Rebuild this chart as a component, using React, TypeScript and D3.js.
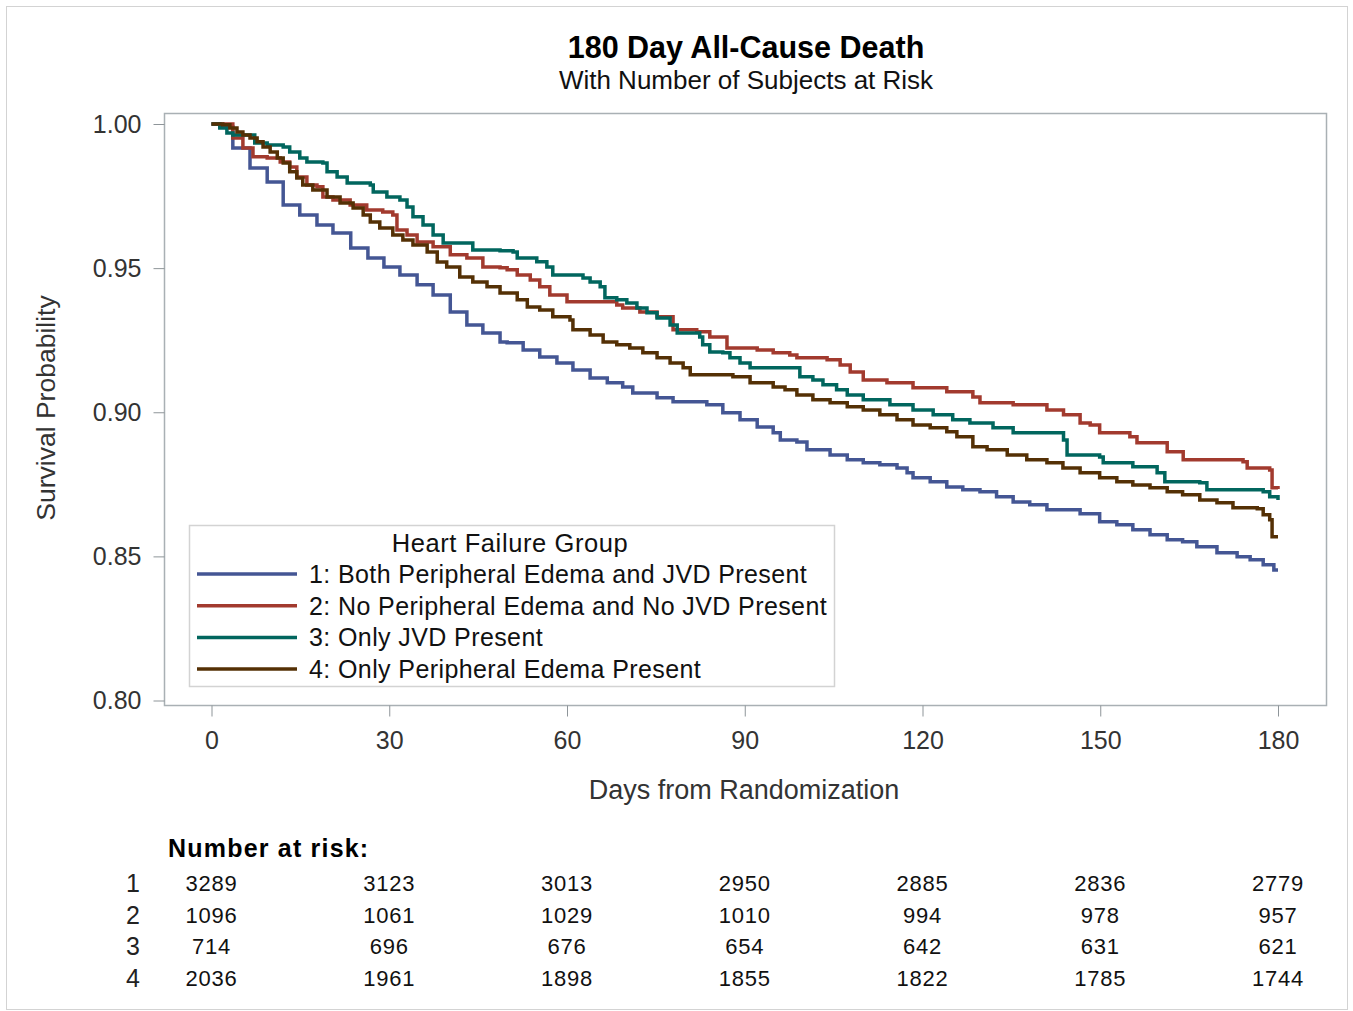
import React, { useEffect, useRef } from "react";
import * as d3 from "d3";

// survival curves, [day, probability]
const group1: [number, number][] = [
  [0, 1.0], [1.4, 0.999], [3.6, 0.9917], [6.5, 0.9847], [9.4, 0.9799], [12.1, 0.9719],
  [14.9, 0.9684], [17.8, 0.965], [20.5, 0.9622], [23.5, 0.957], [26.4, 0.9535], [29.1, 0.9504],
  [31.8, 0.9476], [34.7, 0.9442], [37.4, 0.9407], [40.3, 0.9348], [43.1, 0.9303], [45.8, 0.9275],
  [48.7, 0.9244], [49.9, 0.9241], [52.6, 0.9216], [55.4, 0.9192], [58.3, 0.9171], [61.0, 0.9147],
  [63.9, 0.9119], [66.8, 0.9102], [69.4, 0.9088], [71.1, 0.9067], [75.2, 0.905], [77.9, 0.9036],
  [83.6, 0.9026], [86.3, 0.8998], [89.2, 0.8974], [92.1, 0.8949], [94.8, 0.8929], [96.0, 0.8904],
  [98.8, 0.8897], [100.5, 0.887], [104.4, 0.8852], [107.3, 0.8835], [110.0, 0.8825], [112.8, 0.8818],
  [115.7, 0.8807], [117.4, 0.879], [118.4, 0.8773], [121.3, 0.8759], [124.1, 0.8741], [126.8, 0.8731],
  [129.7, 0.8724], [132.5, 0.8707], [135.3, 0.8689], [138.1, 0.8679], [141.0, 0.8662], [146.6, 0.8648],
  [149.9, 0.862], [152.8, 0.861], [155.5, 0.8592], [158.4, 0.8575], [161.3, 0.8558], [163.9, 0.8551],
  [166.3, 0.8533], [169.7, 0.8513], [173.1, 0.8499], [175.3, 0.8488], [177.5, 0.8471], [179.3, 0.8453],
  [180, 0.8453],
];

const group2: [number, number][] = [
  [0, 1.0], [3.6, 0.9951], [5.3, 0.9917], [7.0, 0.9886], [9.4, 0.9882], [11.6, 0.9868],
  [13.2, 0.9851], [14.4, 0.9816], [16.1, 0.9788], [17.8, 0.9782], [18.8, 0.9747], [20.5, 0.9736],
  [23.4, 0.9719], [26.2, 0.9702], [28.9, 0.9695], [30.6, 0.9684], [31.3, 0.9632], [33.0, 0.9615],
  [34.7, 0.9591], [37.4, 0.9574], [40.3, 0.9546], [43.1, 0.9535], [45.8, 0.9504], [48.7, 0.9501],
  [49.9, 0.9494], [51.6, 0.9476], [53.8, 0.9459], [55.4, 0.9435], [57.1, 0.9407], [60.0, 0.9383],
  [68.4, 0.9372], [69.4, 0.9362], [72.3, 0.9348], [75.2, 0.9331], [77.9, 0.9286], [81.9, 0.9279],
  [84.1, 0.9261], [87.0, 0.9223], [92.1, 0.9216], [94.8, 0.9206], [97.6, 0.9199], [98.8, 0.9189],
  [103.9, 0.9182], [106.1, 0.9164], [107.8, 0.914], [110.0, 0.9112], [114.0, 0.9102], [118.4, 0.9085],
  [124.1, 0.9071], [128.5, 0.9053], [129.7, 0.9033], [135.3, 0.9026], [141.0, 0.9008], [143.8, 0.8991],
  [146.6, 0.8963], [148.3, 0.8956], [149.9, 0.8929], [155.0, 0.8915], [156.2, 0.8894], [161.3, 0.8863],
  [164.0, 0.8835], [174.1, 0.8828], [174.8, 0.8807], [178.6, 0.88], [179.0, 0.8738], [180, 0.8734],
];

const group3: [number, number][] = [
  [0, 1.0], [1.4, 0.9986], [2.6, 0.9969], [3.6, 0.9962], [7.3, 0.9934], [9.4, 0.9927],
  [12.1, 0.992], [13.2, 0.9903], [14.9, 0.9882], [16.1, 0.9868], [18.8, 0.9865], [19.5, 0.9834],
  [21.2, 0.9816], [22.9, 0.9795], [26.8, 0.9788], [27.3, 0.9764], [29.6, 0.9747], [31.8, 0.9736],
  [33.0, 0.9712], [34.0, 0.9678], [35.7, 0.965], [37.4, 0.9615], [39.1, 0.9587], [44.1, 0.9563],
  [48.7, 0.956], [50.9, 0.9556], [51.6, 0.9535], [54.9, 0.9522], [56.6, 0.9504], [57.6, 0.9476],
  [62.7, 0.9466], [63.9, 0.9452], [65.6, 0.9435], [66.4, 0.9397], [68.4, 0.939], [70.1, 0.9379],
  [71.8, 0.9362], [73.5, 0.9345], [75.2, 0.9327], [77.4, 0.9303], [78.6, 0.9275], [82.4, 0.9261],
  [82.9, 0.9234], [84.1, 0.9209], [86.3, 0.9206], [87.5, 0.9189], [89.2, 0.9171], [90.9, 0.9154],
  [99.3, 0.9123], [101.5, 0.9112], [103.2, 0.9095], [105.5, 0.9078], [107.3, 0.906], [110.0, 0.9043],
  [114.5, 0.9026], [118.4, 0.9008], [121.8, 0.8991], [125.1, 0.8974], [128.0, 0.8963], [131.9, 0.8946],
  [135.3, 0.8929], [143.8, 0.8904], [144.4, 0.8852], [149.9, 0.8845], [150.5, 0.8825], [155.5, 0.8811],
  [159.6, 0.879], [160.9, 0.8759], [166.8, 0.8755], [168.0, 0.8731], [177.5, 0.8724], [178.6, 0.8707],
  [180, 0.8696],
];

const group4: [number, number][] = [
  [0, 1.0], [1.9, 0.9997], [3.1, 0.9986], [4.3, 0.9972], [5.3, 0.9962], [6.5, 0.9951],
  [7.7, 0.9938], [8.7, 0.992], [9.9, 0.9903], [11.1, 0.9882], [12.1, 0.9865], [13.2, 0.9834],
  [14.4, 0.9813], [15.4, 0.9788], [17.1, 0.9771], [19.5, 0.9747], [21.7, 0.9726], [23.9, 0.9709],
  [25.6, 0.9684], [26.8, 0.966], [28.4, 0.9639], [30.6, 0.9615], [32.3, 0.9598], [34.0, 0.958],
  [36.4, 0.9556], [38.1, 0.9521], [39.7, 0.9504], [41.9, 0.9469], [44.1, 0.9452], [46.5, 0.9435],
  [48.7, 0.9414], [51.6, 0.939], [53.3, 0.9365], [55.4, 0.9355], [57.6, 0.9331], [60.5, 0.932],
  [61.0, 0.9286], [63.9, 0.9268], [66.1, 0.9244], [68.4, 0.9234], [70.6, 0.9223], [72.8, 0.9206],
  [75.2, 0.9189], [77.4, 0.9171], [79.6, 0.9154], [80.8, 0.913], [88.0, 0.9123], [90.9, 0.9102],
  [94.8, 0.9088], [96.8, 0.9078], [98.8, 0.906], [101.5, 0.9043], [104.4, 0.9033], [107.3, 0.9019],
  [110.0, 0.9008], [112.8, 0.8991], [115.7, 0.8974], [118.4, 0.8956], [121.3, 0.8946], [124.1, 0.8932],
  [125.8, 0.8915], [128.5, 0.888], [130.9, 0.887], [134.3, 0.8852], [137.6, 0.8835], [141.0, 0.8825],
  [143.7, 0.8807], [146.6, 0.879], [149.9, 0.8773], [152.8, 0.8759], [155.5, 0.8748], [158.4, 0.8738],
  [161.3, 0.8724], [163.9, 0.8714], [166.8, 0.8696], [169.7, 0.8686], [172.4, 0.8669], [176.5, 0.8665],
  [177.5, 0.8644], [178.6, 0.8627], [179.0, 0.8568], [180, 0.8568],
];

const groupLabels = [
  "1: Both Peripheral Edema and JVD Present",
  "2: No Peripheral Edema and No JVD Present",
  "3: Only JVD Present",
  "4: Only Peripheral Edema Present",
];
const groupColors = ["#445694", "#A23A2E", "#01665E", "#543005"];

const xTicks = [0, 30, 60, 90, 120, 150, 180];
const yTicks = [0.8, 0.85, 0.9, 0.95, 1.0];

// number at risk at each x tick
const atRisk1 = [3289, 3123, 3013, 2950, 2885, 2836, 2779];
const atRisk2 = [1096, 1061, 1029, 1010, 994, 978, 957];
const atRisk3 = [714, 696, 676, 654, 642, 631, 621];
const atRisk4 = [2036, 1961, 1898, 1855, 1822, 1785, 1744];

const FONT = "'Liberation Sans', Arial, sans-serif";

export default function App() {
  const ref = useRef<SVGSVGElement>(null);

  useEffect(() => {
    const svg = d3.select(ref.current);
    svg.selectAll("*").remove();

    const x = d3.scaleLinear().domain([0, 180]).range([211.5, 1278]);
    const y = d3.scaleLinear().domain([0.8, 1.0]).range([700.5, 124]);

    // outer border
    svg.append("rect")
      .attr("x", 6.5).attr("y", 6.5).attr("width", 1341).attr("height", 1003)
      .attr("fill", "white").attr("stroke", "#d3d3d3");

    // titles
    svg.append("text")
      .attr("x", 746).attr("y", 58)
      .attr("text-anchor", "middle")
      .style("font", "bold 30.5px " + FONT)
      .text("180 Day All-Cause Death");
    svg.append("text")
      .attr("x", 746).attr("y", 89)
      .attr("text-anchor", "middle")
      .style("font", "26px " + FONT)
      .attr("fill", "#111")
      .text("With Number of Subjects at Risk");

    // plot frame
    svg.append("rect")
      .attr("x", 164.5).attr("y", 113.5).attr("width", 1162).attr("height", 592)
      .attr("fill", "none").attr("stroke", "#a9b0b4").attr("stroke-width", 1.5);

    // y axis
    const yAxis = svg.append("g").attr("transform", "translate(164.5,0)")
      .call(d3.axisLeft(y).tickValues(yTicks).tickFormat(d3.format(".2f")).tickSize(11).tickPadding(12));
    yAxis.select(".domain").remove();
    yAxis.selectAll("line").attr("stroke", "#8e9599");
    yAxis.selectAll("text")
      .style("font", "25px " + FONT).attr("fill", "#333");

    // x axis
    const xAxis = svg.append("g").attr("transform", "translate(0,705.5)")
      .call(d3.axisBottom(x).tickValues(xTicks).tickSize(11).tickPadding(15));
    xAxis.select(".domain").remove();
    xAxis.selectAll("line").attr("stroke", "#8e9599");
    xAxis.selectAll("text")
      .style("font", "25px " + FONT).attr("fill", "#333");

    // axis labels
    svg.append("text")
      .attr("x", 744).attr("y", 799)
      .attr("text-anchor", "middle")
      .style("font", "27px " + FONT).attr("fill", "#333")
      .text("Days from Randomization");
    svg.append("text")
      .attr("transform", "translate(55,408) rotate(-90)")
      .attr("text-anchor", "middle")
      .style("font", "26.5px " + FONT).attr("fill", "#333")
      .text("Survival Probability");

    // survival curves
    const line = d3.line<[number, number]>()
      .x(d => x(d[0]))
      .y(d => y(d[1]))
      .curve(d3.curveStepAfter);

    [group1, group2, group3, group4].forEach((g, i) => {
      svg.append("path")
        .datum(g)
        .attr("d", line)
        .attr("fill", "none")
        .attr("stroke", groupColors[i])
        .attr("stroke-width", 3.5);
    });

    // legend
    const legend = svg.append("g");
    legend.append("rect")
      .attr("x", 189.5).attr("y", 525.5).attr("width", 645).attr("height", 161)
      .attr("fill", "white").attr("stroke", "#d3d3d3").attr("stroke-width", 1.5);
    legend.append("text")
      .attr("x", 510).attr("y", 552)
      .attr("text-anchor", "middle")
      .style("font", "25.5px " + FONT).style("letter-spacing", "0.6px").attr("fill", "#111")
      .text("Heart Failure Group");
    groupLabels.forEach((lab, i) => {
      const ly = 574 + i * 31.7;
      legend.append("line")
        .attr("x1", 197).attr("x2", 297).attr("y1", ly).attr("y2", ly)
        .attr("stroke", groupColors[i]).attr("stroke-width", 3.5);
      legend.append("text")
        .attr("x", 309).attr("y", ly + 9)
        .style("font", "25px " + FONT).style("letter-spacing", "0.4px").attr("fill", "#111")
        .text(lab);
    });

    // number at risk table
    svg.append("text")
      .attr("x", 168).attr("y", 857)
      .style("font", "bold 25px " + FONT).style("letter-spacing", "1.2px")
      .text("Number at risk:");
    [atRisk1, atRisk2, atRisk3, atRisk4].forEach((row, i) => {
      const ry = 891 + i * 31.7;
      svg.append("text")
        .attr("x", 133).attr("y", ry + 1)
        .attr("text-anchor", "middle")
        .style("font", "25px " + FONT).attr("fill", "#222")
        .text(String(i + 1));
      row.forEach((v, j) => {
        svg.append("text")
          .attr("x", x(xTicks[j])).attr("y", ry)
          .attr("text-anchor", "middle")
          .style("font", "22px " + FONT).style("letter-spacing", "0.8px").attr("fill", "#111")
          .text(v);
      });
    });
  }, []);

  return (
    <div style={{ position: "absolute", left: 0, top: 0 }}>
      <svg ref={ref} width={1353} height={1011} style={{ display: "block" }} />
    </div>
  );
}
